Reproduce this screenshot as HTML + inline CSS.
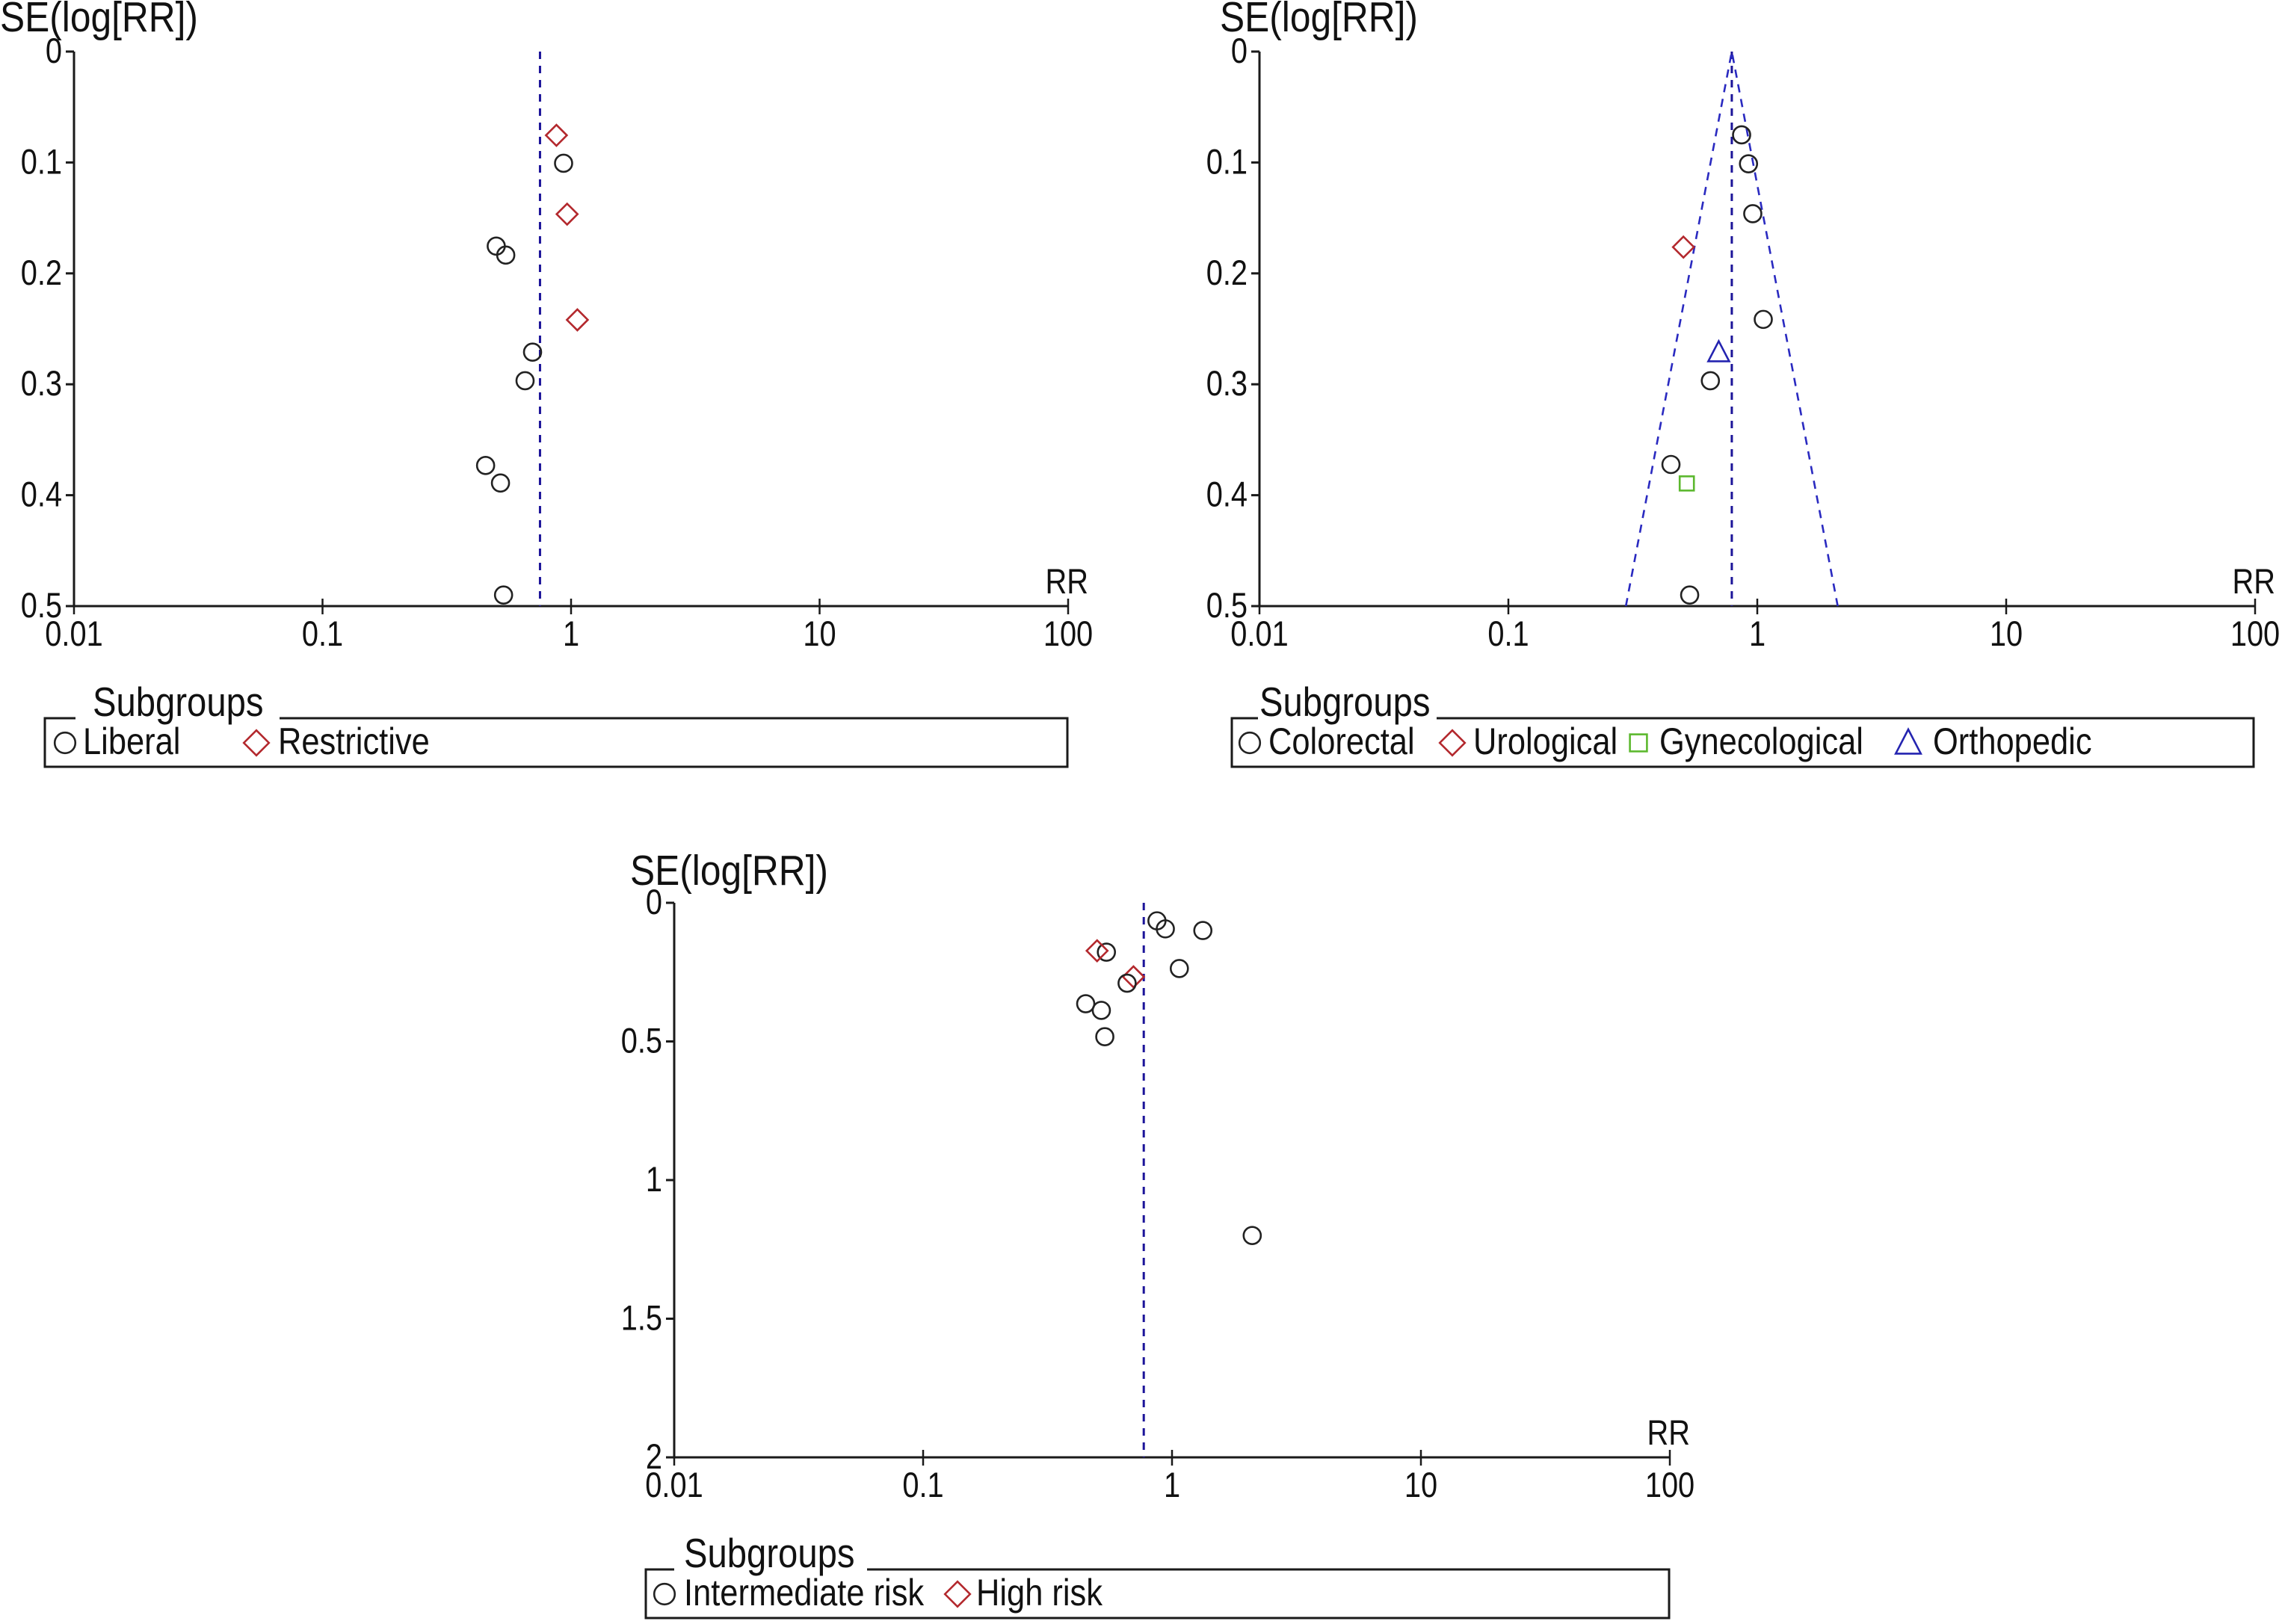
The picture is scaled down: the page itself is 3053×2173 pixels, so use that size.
<!DOCTYPE html>
<html><head><meta charset="utf-8">
<style>
html,body{margin:0;padding:0;background:#fff;}
svg{display:block;font-family:"Liberation Sans",Arial,sans-serif;}
</style></head>
<body>
<svg id="chart" width="3053" height="2173" viewBox="0 0 3053 2173" xmlns="http://www.w3.org/2000/svg"></svg>
<script>
// ---------- data ----------
const xTickValues = [0.01, 0.1, 1, 10, 100];
const xTickLabels = ["0.01", "0.1", "1", "10", "100"];
const yTickValuesA = [0, 0.1, 0.2, 0.3, 0.4, 0.5];
const yTickLabelsA = ["0", "0.1", "0.2", "0.3", "0.4", "0.5"];
const yTickValuesC = [0, 0.5, 1, 1.5, 2];
const yTickLabelsC = ["0", "0.5", "1", "1.5", "2"];

// Panel 1: Liberal vs Restrictive
const p1RR = [0.873, 0.933, 0.964, 0.50, 0.546, 1.06, 0.70, 0.653, 0.453, 0.52, 0.535];
const p1SE = [0.0755, 0.1007, 0.1466, 0.1754, 0.1835, 0.2419, 0.271, 0.2968, 0.3732, 0.389, 0.490];
const p1Group = ["Restrictive","Liberal","Restrictive","Liberal","Liberal","Restrictive","Liberal","Liberal","Liberal","Liberal","Liberal"];
const p1Pooled = 0.75;

// Panel 2: surgery type
const p2RR = [0.865, 0.922, 0.959, 0.505, 1.057, 0.70, 0.648, 0.45, 0.521, 0.535];
const p2SE = [0.0751, 0.1012, 0.1462, 0.1763, 0.2415, 0.2712, 0.2968, 0.3723, 0.3894, 0.490];
const p2Group = ["Colorectal","Colorectal","Colorectal","Urological","Colorectal","Orthopedic","Colorectal","Colorectal","Gynecological","Colorectal"];
const p2Pooled = 0.79;

// Panel 3: risk
const p3RR = [0.87, 0.94, 1.33, 0.545, 0.50, 1.07, 0.70, 0.66, 0.45, 0.52, 0.537, 2.10];
const p3SE = [0.065, 0.094, 0.10, 0.178, 0.173, 0.237, 0.267, 0.29, 0.364, 0.388, 0.483, 1.20];
const p3Group = ["Intermediate risk","Intermediate risk","Intermediate risk","Intermediate risk","High risk","Intermediate risk","High risk","Intermediate risk","Intermediate risk","Intermediate risk","Intermediate risk","Intermediate risk"];
const p3Pooled = 0.77;

// ---------- drawing ----------
const NS = "http://www.w3.org/2000/svg";
const svg = document.getElementById("chart");
function mk(tag, attrs, parent, text) {
  const e = document.createElementNS(NS, tag);
  for (const k in attrs) e.setAttribute(k, attrs[k]);
  if (text !== undefined) e.textContent = text;
  (parent || svg).appendChild(e);
  return e;
}
function txt(parent, x, y, size, anchor, s, sx) {
  return mk("text", {x:0, y:0, "text-anchor":anchor, "font-size":size, fill:"#111",
    transform:`translate(${x},${y}) scale(${sx || 1},1.22)`}, parent, s);
}
const styles = {
  "Liberal": {shape:"circle", color:"#222"},
  "Colorectal": {shape:"circle", color:"#222"},
  "Intermediate risk": {shape:"circle", color:"#222"},
  "Restrictive": {shape:"diamond", color:"#b3282d"},
  "Urological": {shape:"diamond", color:"#b3282d"},
  "High risk": {shape:"diamond", color:"#b3282d"},
  "Gynecological": {shape:"square", color:"#5cb82e"},
  "Orthopedic": {shape:"triangle", color:"#2424b0"}
};
function marker(g, shape, color, cx, cy, k) {
  k = k || 1;
  let e;
  if (shape === "circle") e = mk("circle", {cx:cx, cy:cy, r:11.5*k, fill:"none", stroke:color, "stroke-width":2.6}, g);
  else if (shape === "diamond") e = mk("polygon", {points:`${cx},${cy-14*k} ${cx+14*k},${cy} ${cx},${cy+14*k} ${cx-14*k},${cy}`, fill:"none", stroke:color, "stroke-width":2.6}, g);
  else if (shape === "square") e = mk("rect", {x:cx-9.5*k, y:cy-9.5*k, width:19*k, height:19*k, fill:"none", stroke:color, "stroke-width":2.6}, g);
  else e = mk("polygon", {points:`${cx},${cy-15*k} ${cx+14*k},${cy+12*k} ${cx-14*k},${cy+12*k}`, fill:"none", stroke:color, "stroke-width":2.6}, g);
  return e;
}

function panel(cfg) {
  const g = mk("g", {});
  
  
  const x0 = cfg.x0, x1 = cfg.x1, y0 = cfg.y0, y1 = cfg.y1, ymax = cfg.ymax;
  const xs = v => x0 + (Math.log10(v) + 2) / 4 * (x1 - x0);
  const ys = v => y0 + v / ymax * (y1 - y0);
  const ink = "#1a1a1a";
  const ya = mk("line", {x1:x0, y1:y0, x2:x0, y2:y1, stroke:ink, "stroke-width":3}, g);
  
  
  cfg.yTicks.forEach((v, i) => {
    const y = ys(v);
    mk("line", {x1:x0-11, y1:y, x2:x0, y2:y, stroke:ink, "stroke-width":3}, g);
    const t = txt(g, x0-16, y+15, 39, "end", cfg.yLabels[i], 1.02);
    
    
  });
  const yt = txt(g, cfg.titleX, cfg.titleY, 46, "start", "SE(log[RR])", 1.08);
  
  
  const xa = mk("line", {x1:x0, y1:y1, x2:x1, y2:y1, stroke:ink, "stroke-width":3}, g);
  
  
  xTickValues.forEach((v, i) => {
    const x = xs(v);
    mk("line", {x1:x, y1:y1-10, x2:x, y2:y1+11, stroke:ink, "stroke-width":2.5}, g);
    const t = txt(g, x, y1+53, 39, "middle", xTickLabels[i], 1.02);
    
    
  });
  const rr = txt(g, x1+27, y1-17, 39, "end", "RR", 1.02);
  
  
  const px = xs(cfg.pooled);
  const pl = mk("line", {x1:px, y1:y0, x2:px, y2:y1, stroke:"#1c1499", "stroke-width":3, "stroke-dasharray":"10 9"}, g);
  
  
  if (cfg.funnel) {
    const lo = Math.exp(Math.log(cfg.pooled) - 1.96 * ymax);
    const hi = Math.exp(Math.log(cfg.pooled) + 1.96 * ymax);
    const f = mk("polyline", {points:`${xs(lo)},${y1} ${px},${y0} ${xs(hi)},${y1}`, fill:"none", stroke:"#2a2ac0", "stroke-width":2.6, "stroke-dasharray":"11 9"}, g);
    
    
  }
  cfg.rr.forEach((v, i) => {
    const s = styles[cfg.group[i]];
    const m = marker(g, s.shape, s.color, xs(v), ys(cfg.se[i]));
    
    
  });
  const L = cfg.legend;
  const lg = mk("g", {}, g);
  
  
  mk("path", {d:`M${L.gapEnd},${L.top} H${L.right} V${L.bottom} H${L.left} V${L.top} H${L.gapStart}`, fill:"none", stroke:ink, "stroke-width":3}, lg);
  const st = txt(lg, L.titleX, L.top-3, 45, "start", "Subgroups", 1.05);
  
  
  L.items.forEach(it => {
    const s = styles[it.label];
    marker(lg, s.shape, s.color, it.mx, L.top + 33, 1.2);
    const t = txt(lg, it.tx, L.top + 48, 41, "start", it.label, 1.06);
    
    
  });
}

panel({name:"panel-fluid-strategy", x0:99, x1:1429, y0:69, y1:811, ymax:0.5,
  yTicks:yTickValuesA, yLabels:yTickLabelsA, titleX:0, titleY:42, pooled:p1Pooled,
  rr:p1RR, se:p1SE, group:p1Group, funnel:false,
  legend:{left:60, right:1428, top:961, bottom:1026, gapStart:101, gapEnd:374, titleX:124,
    items:[{label:"Liberal", mx:87, tx:111}, {label:"Restrictive", mx:343, tx:372}]}});

panel({name:"panel-surgery-type", x0:1685, x1:3017, y0:69, y1:811, ymax:0.5,
  yTicks:yTickValuesA, yLabels:yTickLabelsA, titleX:1632, titleY:42, pooled:p2Pooled,
  rr:p2RR, se:p2SE, group:p2Group, funnel:true,
  legend:{left:1648, right:3015, top:961, bottom:1026, gapStart:1683, gapEnd:1922, titleX:1685,
    items:[{label:"Colorectal", mx:1672, tx:1697}, {label:"Urological", mx:1943, tx:1971},
           {label:"Gynecological", mx:2192, tx:2220}, {label:"Orthopedic", mx:2553, tx:2586}]}});

panel({name:"panel-risk-level", x0:902, x1:2234, y0:1208, y1:1950, ymax:2,
  yTicks:yTickValuesC, yLabels:yTickLabelsC, titleX:843, titleY:1184, pooled:p3Pooled,
  rr:p3RR, se:p3SE, group:p3Group, funnel:false,
  legend:{left:864, right:2233, top:2100, bottom:2165, gapStart:902, gapEnd:1160, titleX:915,
    items:[{label:"Intermediate risk", mx:889, tx:915}, {label:"High risk", mx:1281, tx:1306}]}});
</script>
</body></html>
